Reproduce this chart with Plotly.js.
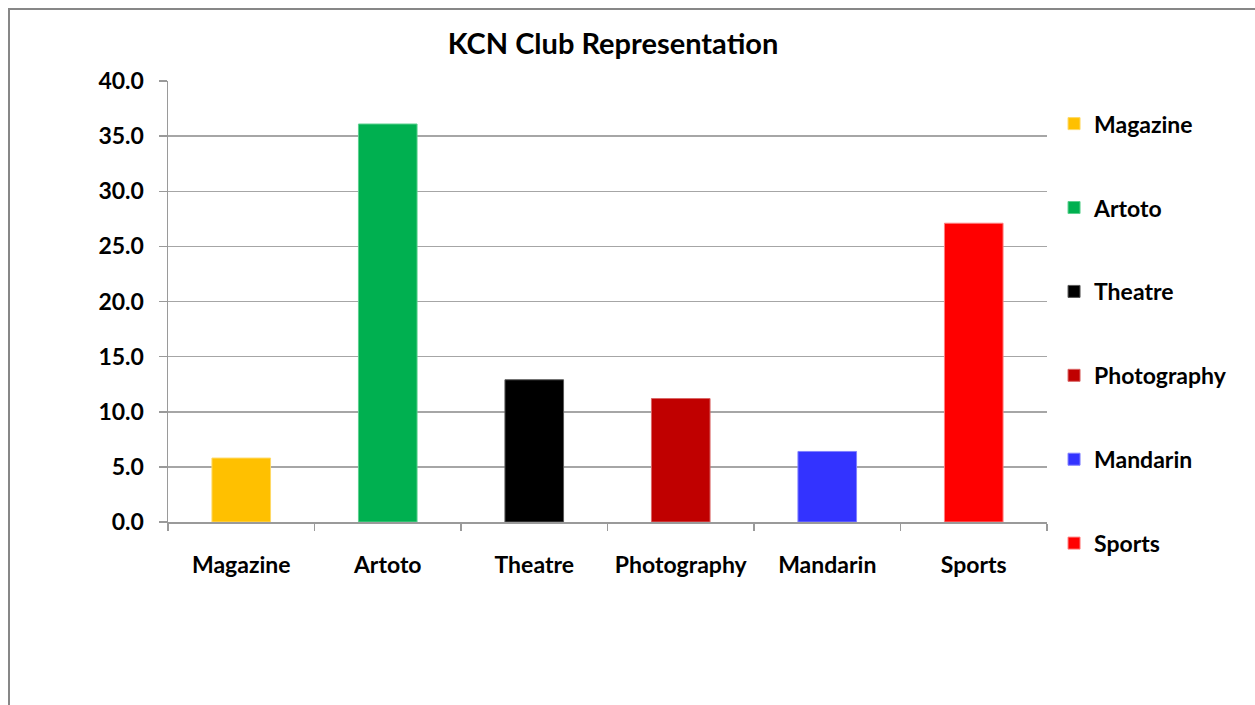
<!DOCTYPE html>
<html>
<head>
<meta charset="utf-8">
<script src="https://cdn.plot.ly/plotly-3.0.1.min.js"></script>
<style>
  html, body { margin: 0; padding: 0; background: #fff; overflow: hidden; }
  #chart { width: 1255px; height: 705px; }
  #frame { position: absolute; left: 8px; top: 8px; width: 1400px; height: 900px;
           border-left: 2px solid #878787; border-top: 2px solid #878787; pointer-events: none; }
</style>
</head>
<body>
<div id="chart"></div>
<div id="frame"></div>
<script>
const categories = ["Magazine", "Artoto", "Theatre", "Photography", "Mandarin", "Sports"];
const values = [5.8, 36.1, 12.9, 11.2, 6.4, 27.1];
const colors = ["#FFC000", "#00B050", "#000000", "#C00000", "#3333FF", "#FF0000"];
const outlines = ["#FFD966", "#5CD08F", "#595959", "#D96666", "#8080FF", "#FF7F7F"];
const yTicks = [0, 5, 10, 15, 20, 25, 30, 35, 40];

const FONT = "Lato, 'Open Sans', sans-serif";

const traces = categories.map((c, i) => ({
  type: "bar",
  x: [c],
  y: [values[i]],
  name: c,
  legendgroup: c,
  width: 0.4,
  marker: { color: colors[i], line: { color: outlines[i], width: 1 } },
  hoverinfo: "x+y"
}));

const layout = {
  width: 1255,
  height: 705,
  margin: { l: 168, r: 208, t: 81, b: 183 },
  paper_bgcolor: "#ffffff",
  plot_bgcolor: "#ffffff",
  barmode: "overlay",
  showlegend: true,
  title: {
    text: "<b>KCN Club Representation</b>",
    font: { family: FONT, size: 29, color: "#000" },
    x: 0.4885, xanchor: "center",
    y: 0.938, yanchor: "middle"
  },
  font: { family: FONT, color: "#000" },
  xaxis: {
    type: "category",
    categoryorder: "array",
    categoryarray: categories,
    tickson: "boundaries",
    ticks: "outside",
    ticklen: 7,
    tickcolor: "#9a9a9a",
    tickwidth: 1.5,
    showline: true,
    linecolor: "#9a9a9a",
    linewidth: 1.5,
    showgrid: false,
    ticklabelstandoff: 22,
    tickfont: { family: FONT, size: 23, color: "#000", weight: "bold" }
  },
  yaxis: {
    range: [0, 40],
    tickvals: yTicks,
    tickformat: ".1f",
    ticks: "outside",
    ticklen: 8,
    tickcolor: "#9a9a9a",
    tickwidth: 1.5,
    showline: true,
    linecolor: "#9a9a9a",
    linewidth: 1.5,
    showgrid: true,
    gridcolor: "#a6a6a6",
    gridwidth: 1.5,
    zeroline: false,
    ticklabelstandoff: 10,
    tickfont: { family: FONT, size: 23, color: "#000", weight: "bold" }
  },
  legend: {
    x: 1.008, xanchor: "left",
    y: 0.952, yanchor: "top",
    tracegroupgap: 51,
    maxheight: 650,
    font: { family: FONT, size: 23, color: "#000", weight: "bold" },
    itemwidth: 30,
    bgcolor: "rgba(0,0,0,0)"
  }
};

Plotly.newPlot("chart", traces, layout, { displayModeBar: false, staticPlot: true });
</script>
</body>
</html>
